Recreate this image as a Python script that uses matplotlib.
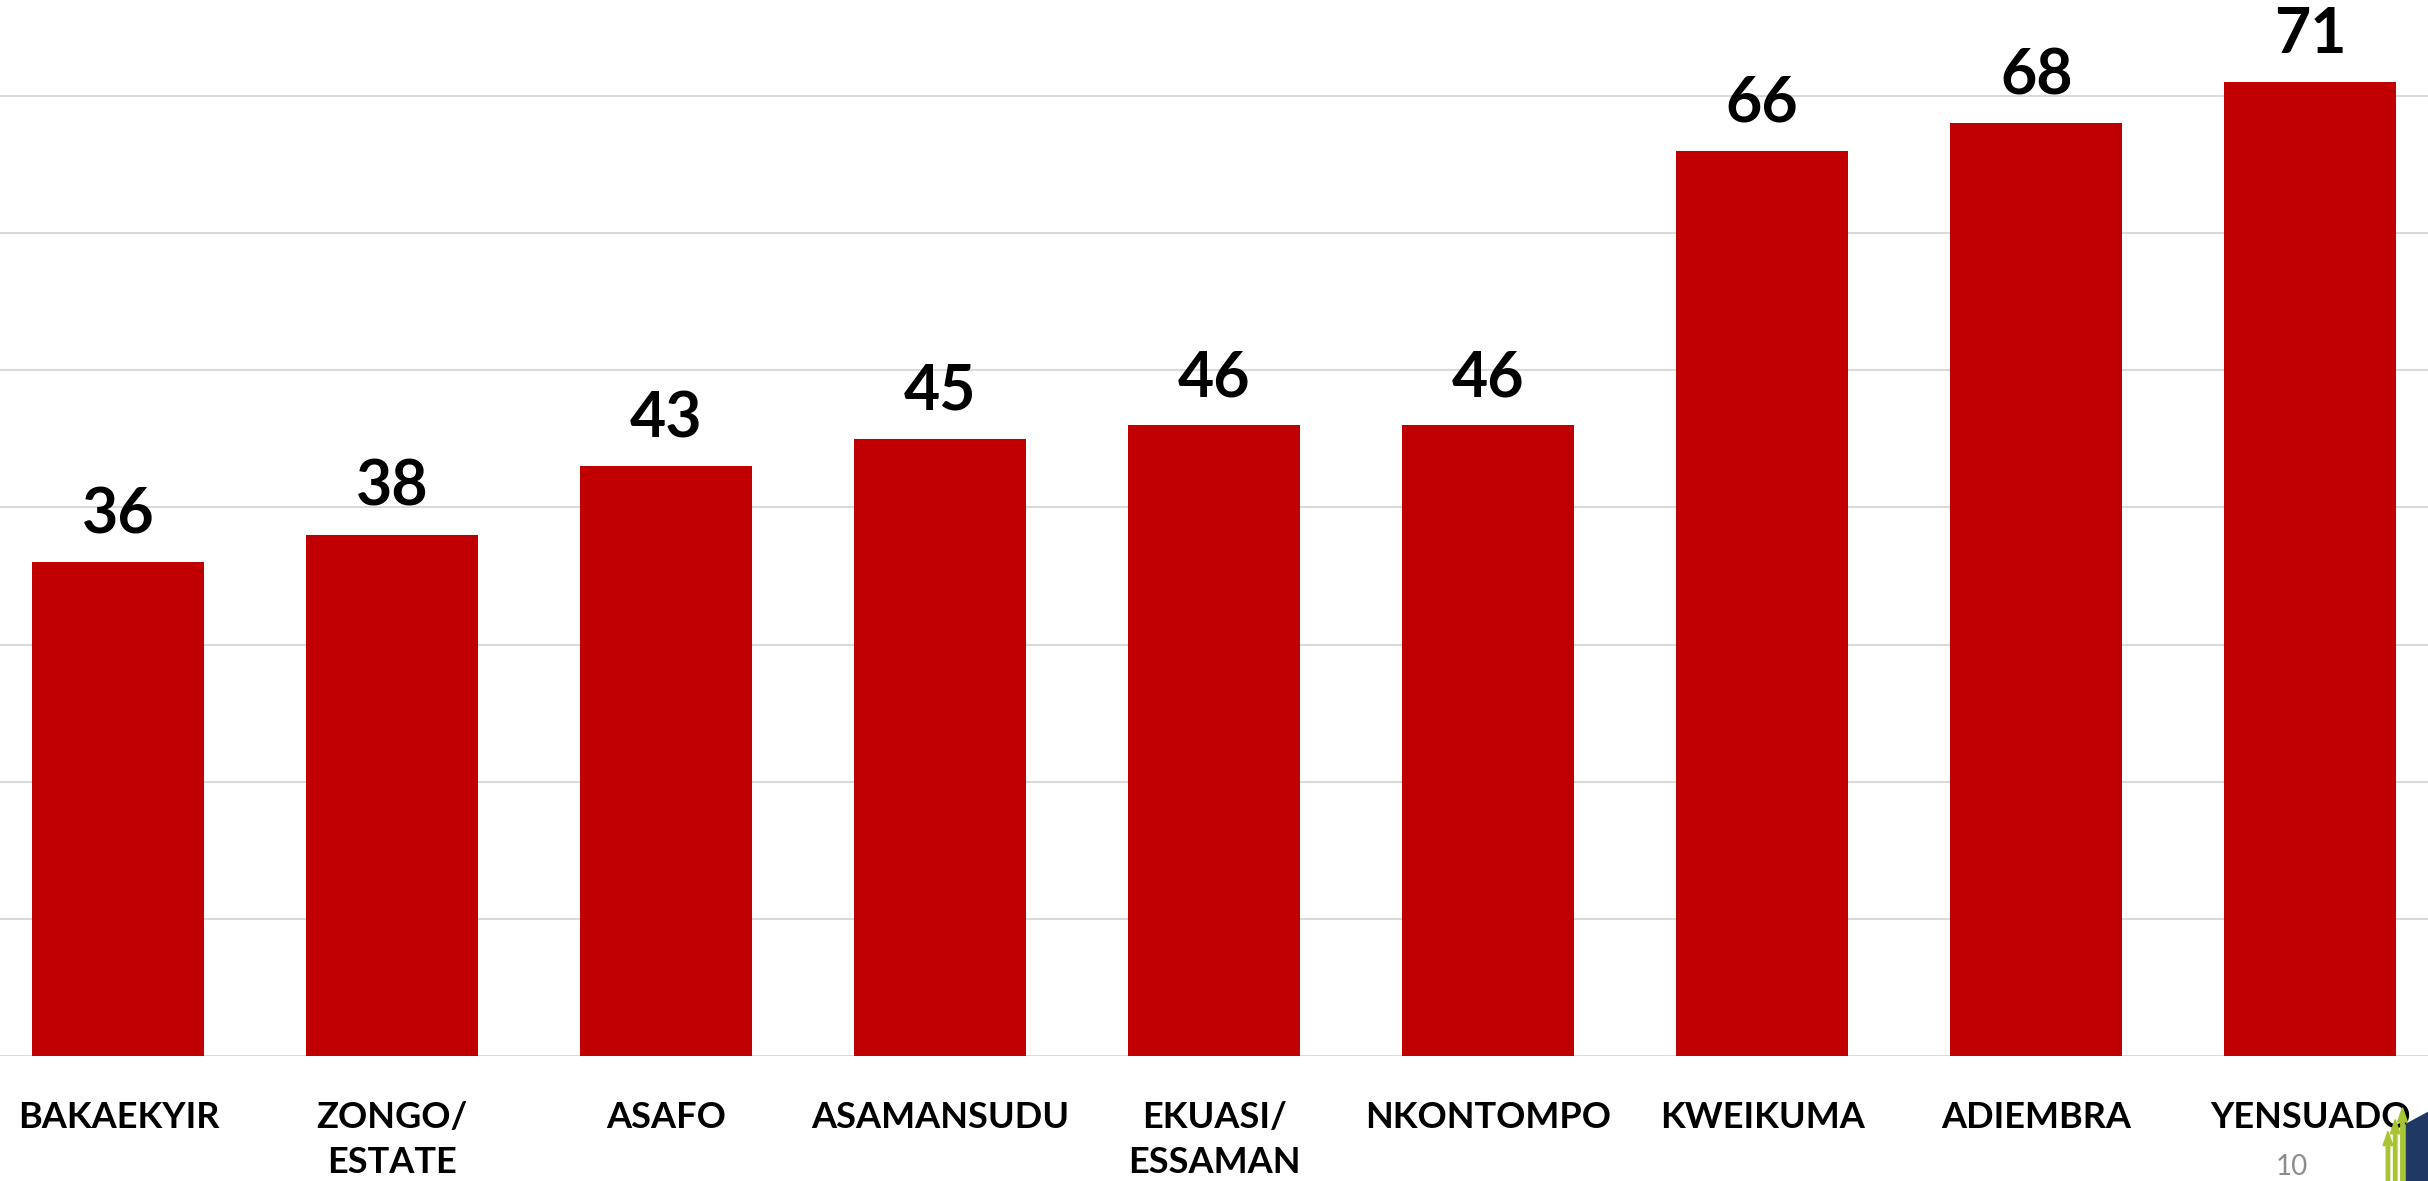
import matplotlib.pyplot as plt
from matplotlib.patches import Polygon

# data
towns = ['BAKAEKYIR', 'ZONGO/\nESTATE', 'ASAFO', 'ASAMANSUDU', 'EKUASI/\nESSAMAN',
         'NKONTOMPO', 'KWEIKUMA', 'ADIEMBRA', 'YENSUADO']
counts = [36, 38, 43, 45, 46, 46, 66, 68, 71]
grid_ticks = [0, 10, 20, 30, 40, 50, 60, 70]

bar_color = '#c00000'
font = 'Lato'

fig = plt.figure(figsize=(24.28, 11.81), dpi=100)
ax = fig.add_axes([0, 0.1058, 1, 0.8942])

x = list(range(len(towns)))
bars = ax.bar(x, counts, width=0.627, color=bar_color, zorder=3)

ax.set_xlim(-0.432, 8.43)
ax.set_ylim(0, 77)
ax.set_yticks(grid_ticks)
ax.yaxis.grid(True, color='#d9d9d9', linewidth=1.5, zorder=0)
ax.tick_params(axis='y', left=False, labelleft=False)
ax.tick_params(axis='x', bottom=False, pad=29)
for s in ax.spines.values():
    s.set_visible(False)

ax.set_xticks(x)
ax.set_xticklabels(towns, fontsize=26, fontweight='bold', family=font,
                   va='top', linespacing=1.45)

for xi, v in zip(x, counts):
    ax.annotate(str(v), (xi, v), xytext=(0, 13), textcoords='offset points',
                ha='center', va='bottom', fontsize=45, fontweight='bold', family=font)

# page number and corner logo
fig.text(0.944, 0.001, '10', fontsize=20, color='#8c8c8c', family=font, ha='center', va='bottom')
fig.patches.append(Polygon([[0.991, 0.0], [0.991, 0.048], [1.0, 0.058], [1.0, 0.0]],
                           closed=True, transform=fig.transFigure, color='#1f3864'))
for ax_x, top in [(0.9835, 0.03), (0.9865, 0.04), (0.9895, 0.05)]:
    fig.patches.append(Polygon([[ax_x - 0.0007, 0], [ax_x - 0.0007, top], [ax_x - 0.002, top],
                                [ax_x, top + 0.012], [ax_x + 0.002, top], [ax_x + 0.0007, top],
                                [ax_x + 0.0007, 0]],
                               closed=True, transform=fig.transFigure, color='#a6c531'))

fig.savefig('out.png', dpi=100)
